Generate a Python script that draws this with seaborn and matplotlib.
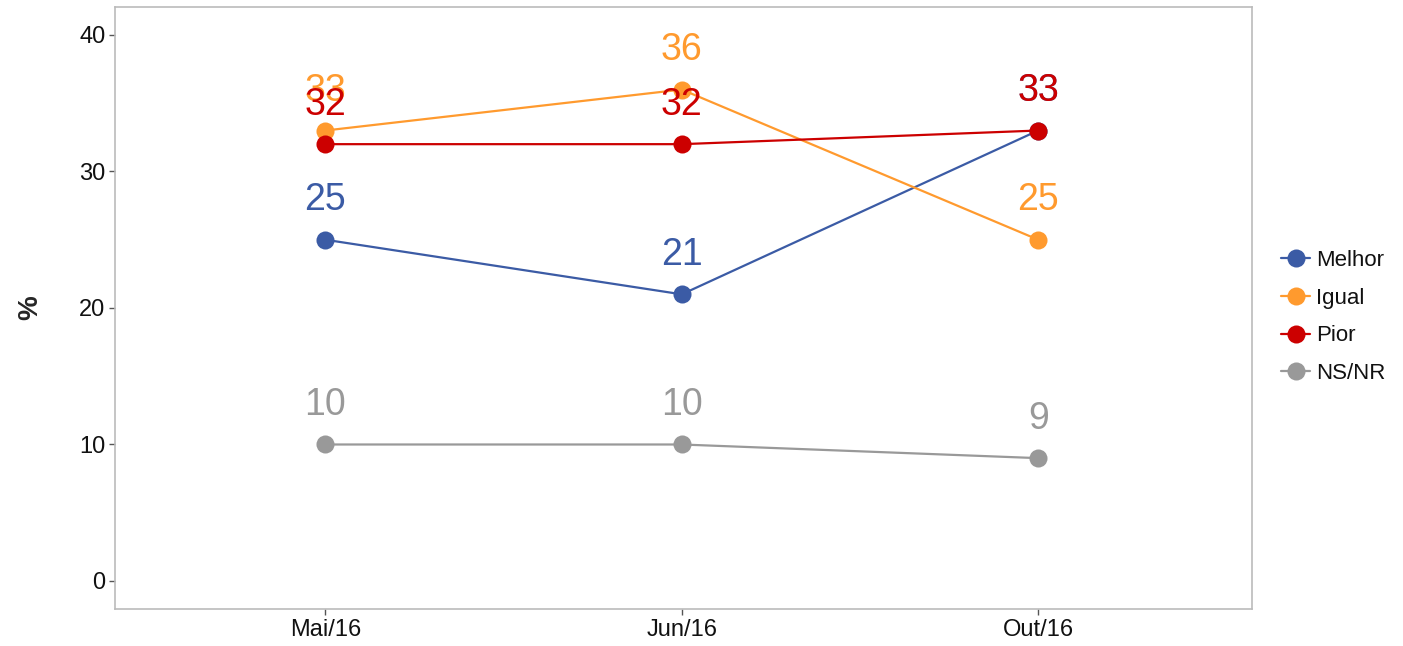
import pandas as pd
import numpy as np
import matplotlib
matplotlib.use('Agg')
import matplotlib.pyplot as plt
import seaborn as sns

periods = ['Mai/16', 'Jun/16', 'Out/16']
series = ['Melhor', 'Igual', 'Pior', 'NS/NR']
melhor = [25, 21, 33]
igual = [33, 36, 25]
pior = [32, 32, 33]
nsnr = [10, 10, 9]
colors = ['#3B5BA5', '#FF9A2E', '#CC0000', '#999999']

df = pd.DataFrame({
    'periodo': periods * 4,
    'x': list(range(3)) * 4,
    'serie': np.repeat(series, 3),
    'valor': melhor + igual + pior + nsnr,
})

sns.set_style('white')
plt.rcParams['font.family'] = ['Liberation Sans', 'DejaVu Sans']

fig = plt.figure(figsize=(14.03, 6.46), dpi=100)
ax = fig.add_axes([0.082, 0.0573, 0.8104, 0.9319])

palette = dict(zip(series, colors))
sns.lineplot(data=df, x='x', y='valor', hue='serie', hue_order=series,
             palette=palette, marker='o', markersize=13, markeredgewidth=0,
             linewidth=1.6, ax=ax, legend=True)

# value labels above each point (33/32 overlap at Mai/16 as in the original)
for s, c in zip(series, colors):
    sub = df[df['serie'] == s]
    for _, r in sub.iterrows():
        ax.text(r['x'], r['valor'] + 2.9, str(r['valor']), color=c,
                fontsize=27, ha='center', va='center')

ax.set_xlim(-0.59, 2.6)
ax.set_ylim(-2.05, 42.05)
ax.set_xticks(range(3))
ax.set_xticklabels(periods)
ax.set_yticks([0, 10, 20, 30, 40])
ax.tick_params(axis='both', labelsize=17, length=4, width=1, color='#555555',
               labelcolor='#111111', left=True, bottom=True, pad=3)
ax.set_xlabel('')
ax.set_ylabel('%', fontsize=20, fontweight='bold', labelpad=26)
for sp in ax.spines.values():
    sp.set_color('#BBBBBB')
    sp.set_linewidth(1.2)

leg = ax.legend(title=None, loc='center left', bbox_to_anchor=(1.012, 0.485),
                fontsize=16, frameon=False, handlelength=1.3,
                handletextpad=0.25, labelspacing=0.75, borderpad=0.2)
for t in leg.get_texts():
    t.set_color('#111111')

fig.savefig('out.png', dpi=100)
